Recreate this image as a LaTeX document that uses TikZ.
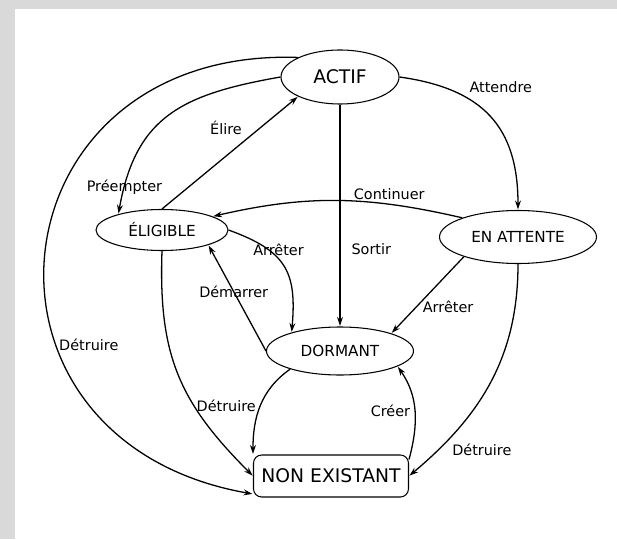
\documentclass[tikz,border=0pt]{standalone}
\usepackage{fontspec}
\setmainfont{DejaVu Sans}
\usetikzlibrary{arrows.meta, positioning, shapes.geometric}

\begin{document}
\begin{tikzpicture}[shorten >=0.5pt,node distance=2cm,on grid,>={Stealth[length=7.5pt,width=5pt]},
      every node/.style={font=\fontsize{12.3}{14}\selectfont},
      proc/.style={draw,ellipse,line width=0.9pt,inner sep=0pt,font=\fontsize{13}{15}\selectfont},
      gone/.style={draw,rounded corners=7pt,line width=0.9pt,inner sep=0pt,
        minimum width=4.65cm,minimum height=1.26cm},
      big/.style={font=\fontsize{16}{19}\selectfont},
      every edge/.style={draw,line width=1.1pt}]
      % scanned page
      \fill[gray!30] (-10.2,2.31) rectangle (8.31,-13.86);
      \fill[white] (-9.75,2.04) rectangle (8.31,-13.86);
      \useasboundingbox (-10.2,2.31) rectangle (8.31,-13.86);
      \node[proc,big,minimum width=3.54cm,minimum height=1.62cm] (actif) {ACTIF};
      \node[proc,minimum width=3.96cm,minimum height=1.23cm] (eligible) [below left=4.59cm and 5.34cm of actif] {ÉLIGIBLE};
      \node[proc,minimum width=4.71cm,minimum height=1.59cm] (attente) [below right=4.8cm and 5.34cm of actif] {EN ATTENTE};
      \node[proc,minimum width=4.41cm,minimum height=1.44cm] (dormant) [below=8.22cm of actif] {DORMANT};
      \node[gone,big] (nonex) [below left=3.75cm and 0.27cm of dormant] {NON EXISTANT};
      \path[->]
      (actif.west) edge [out=190,in=80,looseness=1.2] node [pos=0.9] {Préempter} (eligible.160)
      (eligible.north) edge node [pos=0.62,above left=0pt] {Élire} (actif.205)
      (actif.east) edge [out=-8,in=90,looseness=1.2] node [pos=0.32,above right] {Attendre} (attente.north)
      (actif.south) edge node [pos=0.65,right=6pt] {Sortir} (dormant.north)
      (attente.161) edge [out=167,in=13] node [pos=0.28,above] {Continuer} (eligible.15)
      (eligible.east) edge [out=-20,in=85,looseness=1.3] node [pos=0.3,xshift=0.3cm] {Arrêter} (dormant.159)
      (dormant.west) edge node [pos=0.56] {Démarrer} (eligible.-18)
      (attente.200) edge node [pos=0.66,right=2pt] {Arrêter} (dormant.19)
      (attente.south) edge [out=-90,in=40] node [pos=0.8,below right=0pt] {Détruire} (nonex.east)
      (dormant.200) edge [out=215,in=90] node [pos=0.5,left=0pt] {Détruire} (nonex.north west)
      (nonex.12) edge [out=75,in=-55] node [pos=0.5,left=0pt] {Créer} (dormant.-15)
      (eligible.south) edge [out=-92,in=135,looseness=1.1] (nonex.west)
      (actif.155) edge [out=178,in=170,looseness=1.8] node [pos=0.65,right=-2pt] {Détruire} (nonex.193);
    \end{tikzpicture}
\end{document}
